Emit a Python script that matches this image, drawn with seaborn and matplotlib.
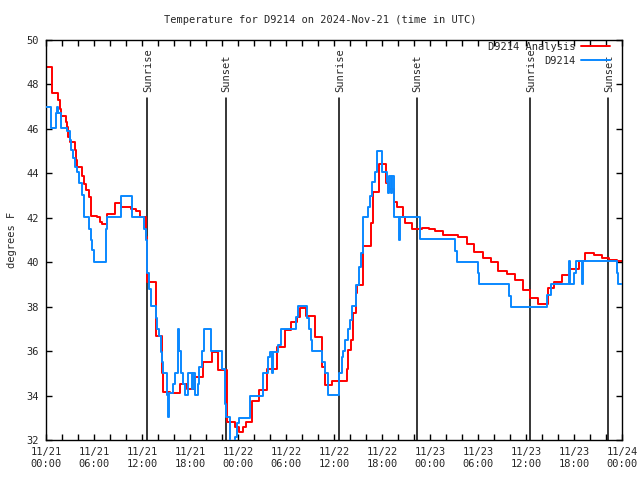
import matplotlib
matplotlib.use("Agg")
import matplotlib.pyplot as plt
from matplotlib.ticker import MultipleLocator
import seaborn as sns

# hours since 2024-11-21 00:00 UTC
analysis_hours = [0.0, 0.79, 1.54, 1.71, 1.83, 2.46, 2.67, 2.79, 3.0, 3.63, 3.79, 3.92,
                  4.54, 4.75, 4.96, 5.38, 5.58, 6.42, 6.71, 7.04, 7.67, 8.63, 9.33,
                  10.67, 11.21, 11.71, 12.46, 12.58, 12.67, 13.71, 14.54, 14.67, 15.5,
                  16.75, 17.58, 18.6, 19.67, 20.71, 21.54, 22.58, 23.6, 24.1, 24.67,
                  24.96, 25.71, 26.63, 27.67, 28.83, 29.88, 30.58, 31.33, 31.75, 32.46,
                  33.63, 34.54, 34.88, 35.71, 37.58, 37.79, 38.08, 38.42, 38.71, 38.92,
                  39.67, 40.62, 40.83, 41.67, 42.5, 42.92, 43.54, 43.83, 44.58, 44.88,
                  45.71, 46.96, 47.92, 48.63, 49.58, 51.54, 52.58, 53.54, 54.58, 55.63,
                  56.54, 57.58, 58.63, 59.67, 60.5, 61.46, 62.79, 63.54, 64.46, 65.5,
                  66.63, 67.38, 68.5, 69.54, 70.38, 71.33, 72.0]
analysis_temp = [48.8, 47.6, 47.3, 46.9, 46.6, 46.3, 46.1, 45.65, 45.4, 45.05, 44.6, 44.3,
                 43.9, 43.5, 43.25, 42.95, 42.1, 42.05, 41.8, 41.7, 42.15, 42.65, 42.5,
                 42.4, 42.3, 42.05, 41.15, 39.9, 39.1, 36.7, 35.0, 34.15, 34.1,
                 34.5, 34.3, 34.85, 35.5, 35.95, 35.15, 32.8, 32.6, 32.37, 32.6,
                 32.8, 33.75, 34.25, 35.2, 36.2, 36.95, 37.3, 37.55, 37.92, 37.57,
                 36.65, 35.3, 34.47, 34.65, 35.2, 36.05, 36.5, 37.7, 38.6, 38.97,
                 40.73, 41.75, 43.17, 44.42, 43.58, 43.3, 42.72, 42.5, 42.05, 41.78,
                 41.5, 41.56, 41.48, 41.42, 41.22, 41.12, 40.82, 40.45, 40.17, 40.0,
                 39.6, 39.47, 39.2, 38.75, 38.38, 38.12, 38.82, 39.12, 39.42, 39.68,
                 40.07, 40.43, 40.32, 40.17, 40.12, 40.07, 40.07]

obs_hours = [0.0, 0.58, 1.21, 1.33, 1.5, 1.83, 2.67, 3.0, 3.17, 3.42, 3.58, 3.92, 4.12,
             4.54, 4.75, 5.38, 5.58, 5.79, 6.0, 7.46, 7.67, 9.33, 10.79, 12.25, 12.46,
             12.58, 12.67, 12.92, 13.08, 13.71, 13.92, 14.12, 14.33, 14.54, 14.67,
             15.17, 15.29, 15.42, 15.92, 16.12, 16.46, 16.67, 16.88, 17.08, 17.38,
             17.71, 18.21, 18.42, 18.62, 18.96, 19.17, 19.46, 19.75, 20.58, 21.96,
             22.38, 22.5, 23.0, 23.62, 23.83, 24.12, 25.5, 27.17, 27.79, 28.0, 28.21,
             28.42, 29.04, 29.33, 31.21, 31.54, 32.58, 32.88, 33.12, 33.29, 34.54,
             34.88, 35.21, 36.58, 36.96, 37.17, 37.38, 37.79, 38.0, 38.21, 38.71,
             39.12, 39.38, 39.58, 39.67, 40.29, 40.5, 40.79, 41.12, 41.33, 41.96,
             42.58, 42.71, 42.88, 43.12, 43.29, 43.54, 44.12, 44.25, 46.75, 51.12,
             51.33, 53.96, 54.12, 57.92, 58.08, 62.58, 63.12, 65.38, 65.5, 66.04,
             66.21, 66.96, 67.08, 71.33, 71.54, 72.0]
obs_temp = [47.0, 46.03, 46.7, 47.0, 46.7, 46.03, 45.9, 45.5, 45.05, 44.7, 44.3, 44.08, 43.55,
            43.03, 42.05, 41.5, 41.0, 40.55, 40.0, 41.5, 42.05, 43.0, 42.05, 41.5, 41.0,
            40.2, 39.5, 38.8, 38.03, 37.47, 37.0, 36.7, 35.97, 35.5, 35.0,
            34.02, 33.05, 34.1, 34.5, 35.0, 37.0, 36.0, 35.0, 34.5, 34.02,
            35.0, 34.3, 35.0, 34.02, 34.5, 35.3, 36.0, 37.0, 36.0, 35.2,
            33.6, 33.05, 31.8, 32.15, 32.75, 33.0, 34.0, 35.0, 35.75, 35.97, 35.0,
            35.97, 36.27, 37.0, 37.55, 38.03, 37.5, 37.0, 36.5, 36.0, 35.5,
            35.0, 34.02, 35.0, 35.75, 36.02, 36.5, 37.0, 37.4, 38.03, 38.97,
            39.8, 40.4, 41.0, 42.02, 42.5, 43.0, 43.6, 44.05, 45.02, 44.05,
            43.6, 43.1, 43.9, 43.1, 43.9, 42.02, 41.0, 42.02, 41.05, 40.5,
            40.03, 39.5, 39.0, 38.5, 38.0, 38.52, 39.02, 40.07, 39.02, 39.5,
            40.05, 39.02, 40.05, 39.5, 39.02, 39.02]

sunrise_hours = [12.62, 36.63, 60.5]
sunset_hours = [22.46, 46.33, 70.29]

tick_hours = list(range(0, 73, 6))
tick_labels = ["11/21\n00:00", "11/21\n06:00", "11/21\n12:00", "11/21\n18:00",
               "11/22\n00:00", "11/22\n06:00", "11/22\n12:00", "11/22\n18:00",
               "11/23\n00:00", "11/23\n06:00", "11/23\n12:00", "11/23\n18:00",
               "11/24\n00:00"]


def main():
    sns.set_style("white")
    plt.rcParams['font.family'] = ['DejaVu Sans Mono']
    fs = 7.5

    fig = plt.figure(figsize=(6.4, 4.8), dpi=100)
    ax = fig.add_axes([46 / 640, 40 / 480, 576 / 640, 400 / 480])

    for h in sunrise_hours + sunset_hours:
        ax.plot([h, h], [32, 47.4], color='black', lw=1.1, zorder=1)
    for h in sunrise_hours:
        ax.text(h + 0.1, 47.65, "Sunrise", rotation=90, ha='center', va='bottom', fontsize=fs)
    for h in sunset_hours:
        ax.text(h + 0.1, 47.65, "Sunset", rotation=90, ha='center', va='bottom', fontsize=fs)

    sns.lineplot(x=analysis_hours, y=analysis_temp, ax=ax, color='#ff0000', lw=1.4,
                 drawstyle='steps-post', estimator=None, label='D9214 Analysis', zorder=2)
    sns.lineplot(x=obs_hours, y=obs_temp, ax=ax, color='#0a88ff', lw=1.4,
                 drawstyle='steps-post', estimator=None, label='D9214', zorder=3)

    ax.set_xlim(0, 72)
    ax.set_ylim(32, 50)
    ax.set_xticks(tick_hours)
    ax.set_xticklabels(tick_labels, fontsize=fs)
    ax.xaxis.set_minor_locator(MultipleLocator(2))
    ax.yaxis.set_major_locator(MultipleLocator(2))
    ax.tick_params(axis='y', labelsize=fs)
    ax.tick_params(which='both', direction='in', length=4, width=1, color='black',
                   top=True, right=True, bottom=True, left=True, pad=5)
    for s in ax.spines.values():
        s.set_color('black')
        s.set_linewidth(1)

    ax.legend(loc='upper right', bbox_to_anchor=(0.979, 0.995), frameon=False,
              markerfirst=False, fontsize=fs, handlelength=2.8, handletextpad=0.5,
              borderpad=0, borderaxespad=0, labelspacing=0.35)

    fig.text(0.5, 1 - 20 / 480, "Temperature for D9214 on 2024-Nov-21 (time in UTC)",
             ha='center', va='center', fontsize=fs)
    fig.text(12 / 640, 0.5, "degrees F", rotation=90, ha='center', va='center', fontsize=fs)

    fig.savefig("out.png", dpi=100)


if __name__ == "__main__":
    main()
